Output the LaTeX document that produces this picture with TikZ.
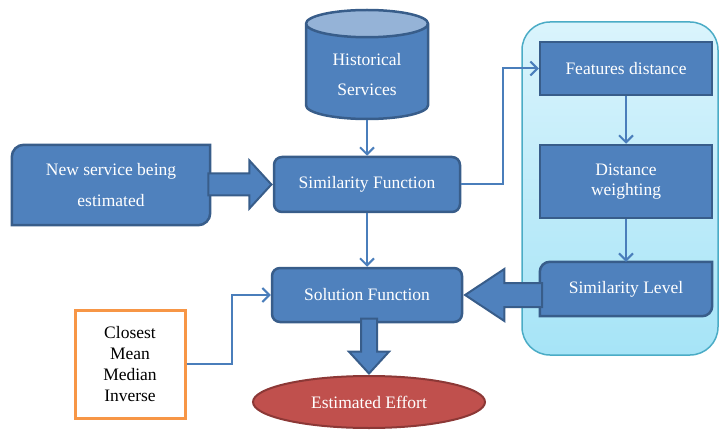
\documentclass[tikz,border=0pt]{standalone}
\usepackage{fontspec}
\setmainfont{Liberation Serif}
\usetikzlibrary{shapes.geometric,shapes.arrows,arrows.meta,calc}

\definecolor{boxblue}{HTML}{4F81BD}
\definecolor{boxedge}{HTML}{385D8A}
\definecolor{linkblue}{HTML}{4A7EBB}
\definecolor{dbtop}{HTML}{95B3D7}
\definecolor{panelline}{HTML}{4BACC6}
\definecolor{paneltop}{HTML}{DAF4FC}
\definecolor{panelbot}{HTML}{A6E4F7}
\definecolor{effortred}{HTML}{C0504D}
\definecolor{effortedge}{HTML}{8C3836}
\definecolor{methodorange}{HTML}{F79646}

\begin{document}
\begin{tikzpicture}[x=1pt,y=1pt,
    font=\fontsize{17.5}{21}\selectfont,
    box/.style={draw=boxedge, line width=2.5pt, fill=boxblue, text=white,
      rounded corners=8pt, minimum height=54pt, inner sep=0pt, align=center},
    flatbox/.style={box, rounded corners=0pt},
    diagbox/.style={draw=boxedge, line width=2.5pt, fill=boxblue},
    boxtext/.style={text=white, align=center, inner sep=0pt},
    link/.style={draw=linkblue, line width=2pt, -{Straight Barb[length=7pt,width=14pt]}},
    fat/.style={single arrow, draw=boxedge, line width=2pt, fill=boxblue, anchor=tip,
      minimum width=0pt, single arrow head indent=0pt},
  ]
    \useasboundingbox (0,0) rectangle (720,429);

    % the panel behind the three similarity steps
    \node[draw=panelline, line width=1.5pt, top color=paneltop, bottom color=panelbot,
      rounded corners=28pt, minimum width=196pt, minimum height=333pt] (panel) at (620,240.5) {};

    \node[cylinder, shape border rotate=90, draw=boxedge, line width=2.5pt,
      cylinder uses custom fill, cylinder body fill=boxblue, cylinder end fill=dbtop,
      aspect=0.36, minimum width=122pt, minimum height=109pt, text=white, align=center,
      anchor=shape center, font=\fontsize{17.5}{30}\selectfont] (hist) at (367,364.5) {Historical\\Services};

    % new service: two rounded corners only
    \node[minimum width=198pt, minimum height=80pt, inner sep=0pt] (ns) at (111,244) {};
    \draw[diagbox] (ns.south west) -- ([yshift=-12pt]ns.north west)
      arc[start angle=180, end angle=90, radius=12pt] -- (ns.north east)
      -- ([yshift=12pt]ns.south east) arc[start angle=0, end angle=-90, radius=12pt] -- cycle;
    \node[boxtext, font=\fontsize{17.5}{31}\selectfont] (nstext) at (ns) {New service being\\estimated};

    \node[box, minimum width=186pt, minimum height=55pt] (sf) at (367,244.5) {Similarity Function};
    \node[box, minimum width=190pt] (sol) at (367,134) {Solution Function};

    \node[flatbox, minimum width=172pt, minimum height=53pt] (fd) at (626,360.5) {Features distance};
    \node[flatbox, minimum width=172pt, minimum height=73pt,
      font=\fontsize{17.5}{20}\selectfont] (dw) at (626,247.5) {Distance\\weighting};

    \node[minimum width=172pt, minimum height=54pt, inner sep=0pt] (sl) at (626,140) {};
    \draw[diagbox] (sl.south west) -- ([yshift=-10pt]sl.north west)
      arc[start angle=180, end angle=90, radius=10pt] -- (sl.north east)
      -- ([yshift=10pt]sl.south east) arc[start angle=0, end angle=-90, radius=10pt] -- cycle;
    \node[boxtext] (sltext) at (sl) {Similarity Level};

    \node[draw=methodorange, line width=3pt, fill=white, minimum width=110pt,
      minimum height=108pt, align=center] (cl) at (130,65) {Closest\\Mean\\Median\\Inverse};

    \node[ellipse, draw=effortedge, line width=2pt, fill=effortred, text=white,
      minimum width=232pt, minimum height=52pt] (ee) at (369,27) {Estimated Effort};

    % thin connectors
    \draw[link] (hist.south) -- (sf.north);
    \draw[link] (sf.south) -- (sol.north);
    \draw[link] (sf.east) -- ++(42,0) |- (fd.west);
    \draw[link] (fd.south) -- (dw.north);
    \draw[link] (dw.south) -- (sl.north);
    \draw[link] (cl.east) -- ++(45,0) |- (sol.west);

    % block arrows
    \node[fat, minimum height=63pt, inner xsep=0pt, inner ysep=10pt, single arrow head extend=13pt,
      single arrow tip angle=95] (nsarrow) at (sf.west) {};
    \node[fat, shape border rotate=180, minimum height=77pt, inner xsep=0pt, inner ysep=11pt,
      single arrow head extend=14pt, single arrow tip angle=67] (slarrow) at (sol.east) {};
    \node[fat, shape border rotate=270, minimum height=55pt, inner xsep=7pt, inner ysep=0pt,
      single arrow head extend=12pt, single arrow tip angle=85] (eearrow) at (ee.north) {};
\end{tikzpicture}
\end{document}
